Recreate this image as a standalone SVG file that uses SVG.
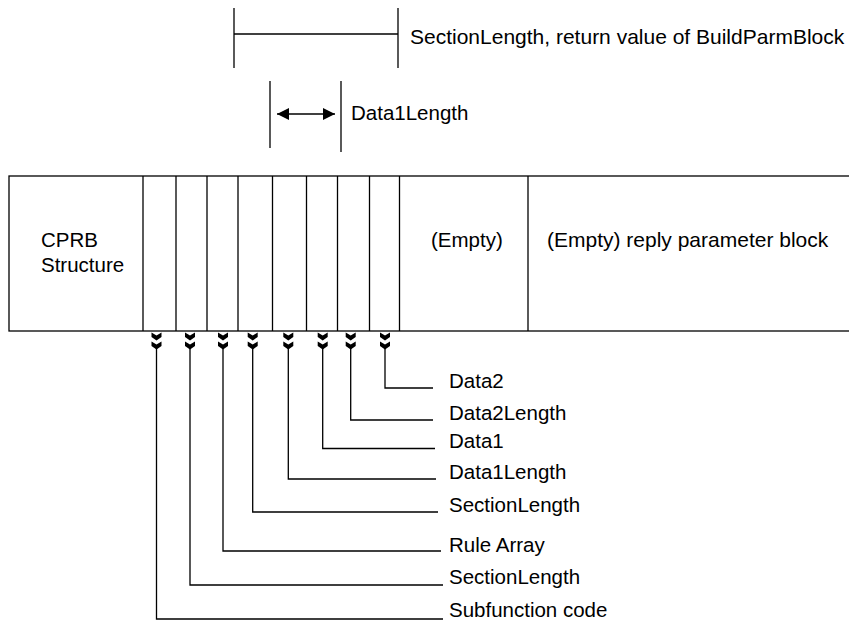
<svg xmlns="http://www.w3.org/2000/svg" width="849" height="622" viewBox="0 0 849 622">
<style>
  text { font-family: "Liberation Sans", Arial, sans-serif; font-size: 20.5px; fill: #000; }
  .big { font-size: 21px; }
  .ln { stroke: #000; stroke-width: 1.3; fill: none; }
  .chev { fill: #000; }
</style>
<defs>
  <marker id="ah" viewBox="0 0 12 12" refX="12" refY="6" markerWidth="12" markerHeight="12" markerUnits="userSpaceOnUse" orient="auto-start-reverse">
    <path d="M0,0 L12,6 L0,12 Z" fill="#000"/>
  </marker>
  <g id="dchev">
    <path class="chev" d="M-5,0 L0,3 L5,0 L5,4.5 L0,8 L-5,4.5 Z"/>
    <path class="chev" d="M-5,9 L0,12 L5,9 L5,13.5 L0,17 L-5,13.5 Z"/>
  </g>
</defs>
<rect width="849" height="622" fill="#fff"/>

<g id="dim-section">
  <line class="ln" x1="234" y1="8" x2="234" y2="68"/>
  <line class="ln" x1="398" y1="8" x2="398" y2="68"/>
  <line class="ln" x1="234" y1="34" x2="398" y2="34"/>
  <text class="big" x="410" y="44">SectionLength, return value of BuildParmBlock</text>
</g>

<g id="dim-data1">
  <line class="ln" x1="270" y1="81" x2="270" y2="148"/>
  <line class="ln" x1="341" y1="81" x2="341" y2="152"/>
  <line class="ln" x1="277" y1="114" x2="335" y2="114" marker-start="url(#ah)" marker-end="url(#ah)"/>
  <text x="351" y="120">Data1Length</text>
</g>

<g id="block">
  <rect class="ln" x="9" y="176" width="845" height="155"/>
  <line class="ln" x1="143" y1="176" x2="143" y2="331"/>
  <line class="ln" x1="176" y1="176" x2="176" y2="331"/>
  <line class="ln" x1="207" y1="176" x2="207" y2="331"/>
  <line class="ln" x1="238" y1="176" x2="238" y2="331"/>
  <line class="ln" x1="272.5" y1="176" x2="272.5" y2="331"/>
  <line class="ln" x1="306.5" y1="176" x2="306.5" y2="331"/>
  <line class="ln" x1="337.5" y1="176" x2="337.5" y2="331"/>
  <line class="ln" x1="369.5" y1="176" x2="369.5" y2="331"/>
  <line class="ln" x1="399.5" y1="176" x2="399.5" y2="331"/>
  <line class="ln" x1="528" y1="176" x2="528" y2="331"/>
  <text x="41" y="247">CPRB</text>
  <text x="41" y="272">Structure</text>
  <text x="431" y="247">(Empty)</text>
  <text class="big" x="547" y="247">(Empty) reply parameter block</text>
</g>

<g id="connectors">
  <use href="#dchev" x="156.5" y="332.5"/>
  <use href="#dchev" x="190" y="332.5"/>
  <use href="#dchev" x="223" y="332.5"/>
  <use href="#dchev" x="252.7" y="332.5"/>
  <use href="#dchev" x="288.3" y="332.5"/>
  <use href="#dchev" x="322.7" y="332.5"/>
  <use href="#dchev" x="350.7" y="332.5"/>
  <use href="#dchev" x="385" y="332.5"/>
  <polyline class="ln" points="385,345 385,388 433,388"/>
  <polyline class="ln" points="350.7,345 350.7,420 433,420"/>
  <polyline class="ln" points="322.7,345 322.7,448.5 435,448.5"/>
  <polyline class="ln" points="288.3,345 288.3,479 436,479"/>
  <polyline class="ln" points="252.7,345 252.7,512 438,512"/>
  <polyline class="ln" points="223,345 223,551 441,551"/>
  <polyline class="ln" points="190,345 190,585 443,585"/>
  <polyline class="ln" points="156.5,345 156.5,619 443,619"/>
</g>

<g id="labels">
  <text x="449" y="388">Data2</text>
  <text x="449" y="420">Data2Length</text>
  <text x="449" y="448">Data1</text>
  <text x="449" y="479">Data1Length</text>
  <text x="449" y="512">SectionLength</text>
  <text x="449" y="552">Rule Array</text>
  <text x="449" y="584">SectionLength</text>
  <text x="449" y="617">Subfunction code</text>
</g>
</svg>
